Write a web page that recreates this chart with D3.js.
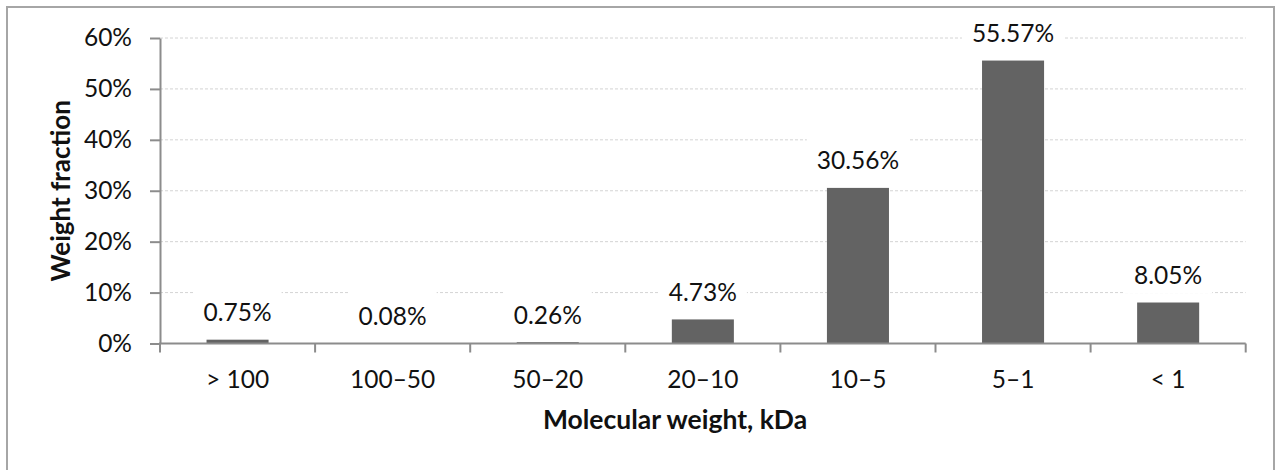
<!DOCTYPE html>
<html>
<head>
<meta charset="utf-8">
<script src="https://cdn.jsdelivr.net/npm/d3@7"></script>
<style>
  body { margin: 0; background: #fff; }
  svg text { font-family: Lato, "Open Sans", sans-serif; fill: #111; }
  .grid line { stroke: #d4d4d4; stroke-width: 1; stroke-dasharray: 3,2; }
  .bar { fill: #636363; }
  .axis_line { stroke: #8c8c8c; stroke-width: 2; }
</style>
</head>
<body>
<div id="chart"></div>
<script>

/* molecular weight distribution bar chart */

// data

var categories = ["> 100", "100–50", "50–20", "20–10", "10–5", "5–1", "< 1"];
var values = [0.75, 0.08, 0.26, 4.73, 30.56, 55.57, 8.05];
var yTicks = [0, 10, 20, 30, 40, 50, 60];
var yTitle = "Weight fraction",
    xTitle = "Molecular weight, kDa";

// sizes

var width = 1276,
    height = 470,
    plotLeft = 160,
    plotRight = 1245.7,
    plotTop = 38,
    plotBottom = 343.5;

var formatPer = function(d) { return d.toFixed(2) + "%"; };

// scales

var xScale = d3.scaleBand()
  .domain(categories)
  .range([plotLeft, plotRight])
  .paddingInner(0.6)
  .paddingOuter(0.3);

var yScale = d3.scaleLinear()
  .domain([0, 60])
  .range([plotBottom, plotTop]);

// svg

var svg = d3.select("#chart")
  .append("svg")
    .attr("width", width)
    .attr("height", height);

// frame

svg.append("rect")
  .attr("x", 7)
  .attr("y", 7)
  .attr("width", 1267)
  .attr("height", 500)
  .attr("fill", "none")
  .attr("stroke", "#a6a6a6")
  .attr("stroke-width", 2);

// gridlines

svg.append("g")
  .attr("class", "grid")
  .selectAll("line")
  .data(yTicks.filter(function(d) { return d > 0; }))
  .enter()
    .append("line")
      .attr("x1", plotLeft)
      .attr("x2", plotRight)
      .attr("y1", function(d) { return yScale(d); })
      .attr("y2", function(d) { return yScale(d); });

// bars

svg.selectAll(".bar")
  .data(values)
  .enter()
    .append("rect")
      .attr("class", "bar")
      .attr("x", function(d, i) { return xScale(categories[i]); })
      .attr("y", function(d) { return yScale(d); })
      .attr("width", xScale.bandwidth())
      .attr("height", function(d) { return plotBottom - yScale(d); });

// data labels with white boxes behind them

var labels = svg.selectAll(".bar_label")
  .data(values)
  .enter()
    .append("g")
      .attr("class", "bar_label");

labels.append("text")
  .attr("x", function(d, i) { return xScale(categories[i]) + xScale.bandwidth() / 2; })
  .attr("y", function(d) { return yScale(d) - 18.5; })
  .attr("text-anchor", "middle")
  .style("font-size", "24.5px")
  .text(function(d) { return formatPer(d); });

labels.each(function() {
  var g = d3.select(this),
      bb = g.select("text").node().getBBox();
  g.insert("rect", "text")
    .attr("x", bb.x - 10)
    .attr("y", bb.y - 10)
    .attr("width", bb.width + 20)
    .attr("height", bb.height + 14)
    .attr("fill", "#fff");
});

// y axis

var yAxis = svg.append("g")
  .attr("transform", "translate(" + plotLeft + ",0)")
  .call(d3.axisLeft(yScale)
    .tickValues(yTicks)
    .tickSize(10)
    .tickPadding(18)
    .tickSizeOuter(0)
    .tickFormat(function(d) { return d + "%"; }));

yAxis.select(".domain").attr("stroke", "#8c8c8c").attr("stroke-width", 2);
yAxis.selectAll(".tick line").attr("stroke", "#8c8c8c").attr("stroke-width", 2);
yAxis.selectAll(".tick text")
  .style("font-size", "24.5px")
  .attr("fill", "#111");

// x axis, ticks sit between the categories

var step = xScale.step();
var xBounds = categories.map(function(d) { return xScale(d) - step * 0.3; }).concat([plotRight]);

svg.append("line")
  .attr("class", "axis_line")
  .attr("x1", plotLeft - 1)
  .attr("x2", plotRight)
  .attr("y1", plotBottom)
  .attr("y2", plotBottom);

svg.selectAll(".x_tick")
  .data(xBounds)
  .enter()
    .append("line")
      .attr("class", "axis_line")
      .attr("x1", function(d) { return d; })
      .attr("x2", function(d) { return d; })
      .attr("y1", plotBottom)
      .attr("y2", plotBottom + 9);

svg.selectAll(".x_label")
  .data(categories)
  .enter()
    .append("text")
      .attr("class", "x_label")
      .attr("x", function(d) { return xScale(d) + xScale.bandwidth() / 2; })
      .attr("y", 388)
      .attr("text-anchor", "middle")
      .style("font-size", "24.5px")
      .text(function(d) { return d; });

// axis titles

svg.append("text")
  .attr("transform", "translate(70," + ((plotTop + plotBottom) / 2) + ") rotate(-90)")
  .attr("text-anchor", "middle")
  .style("font-size", "26px")
  .style("font-weight", "bold")
  .text(yTitle);

svg.append("text")
  .attr("x", 675)
  .attr("y", 429)
  .attr("text-anchor", "middle")
  .style("font-size", "26.5px")
  .style("font-weight", "bold")
  .text(xTitle);

</script>
</body>
</html>
